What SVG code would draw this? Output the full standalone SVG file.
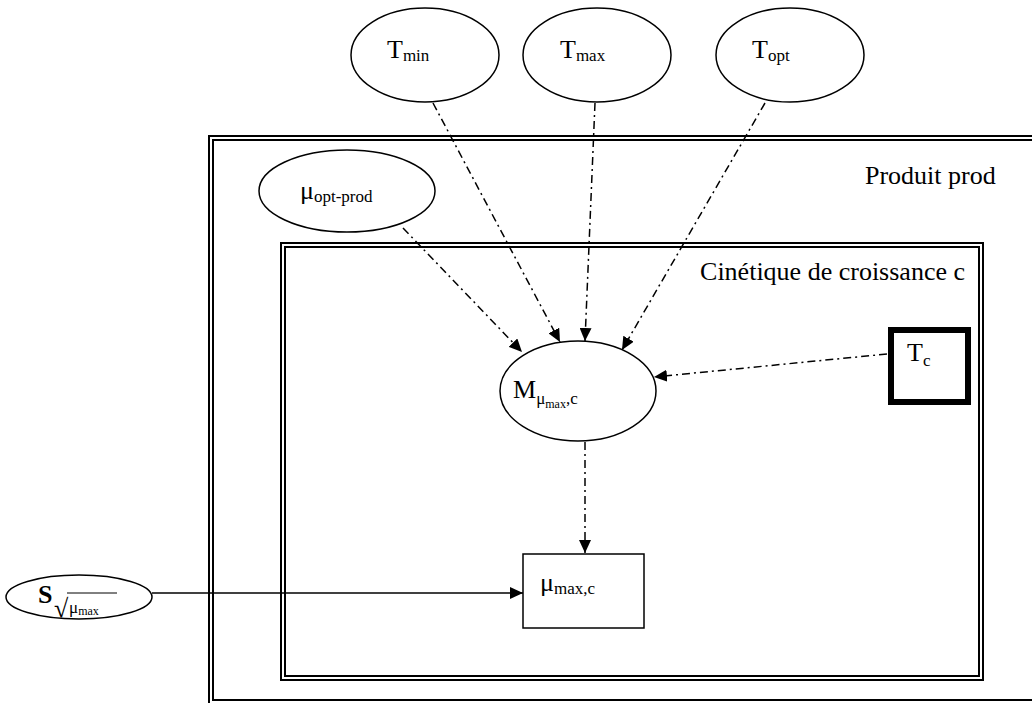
<svg xmlns="http://www.w3.org/2000/svg" width="1032" height="703" viewBox="0 0 1032 703">
<defs>
<style>
text{font-family:"Liberation Serif","Times New Roman",serif;fill:#000}
.big{font-size:26px}
.sub{font-size:17px}
.ssub{font-size:12px}
.ell{fill:#fff;stroke:#000;stroke-width:1.5}
.frame{fill:none;stroke:#000;stroke-width:2}
.dd{fill:none;stroke:#000;stroke-width:1.5;stroke-dasharray:8 4 2 4}
.solid{fill:none;stroke:#000;stroke-width:1.5}
</style>
<marker id="ah" markerUnits="userSpaceOnUse" markerWidth="14" markerHeight="12" refX="13" refY="6" orient="auto">
<path d="M0,0 L13,6 L0,12 Z" fill="#000"/>
</marker>
</defs>
<rect width="1032" height="703" fill="#fff"/>
<g id="produit">
<rect class="frame" x="209" y="136" width="900" height="600"/>
<rect class="frame" x="213" y="140" width="900" height="560"/>
<text class="big" x="865" y="184">Produit prod</text>
</g>
<g id="cinetique">
<rect class="frame" x="281" y="243" width="702" height="437"/>
<rect class="frame" x="285" y="247" width="694" height="429"/>
<text class="big" x="965" y="280" text-anchor="end">Cinétique de croissance c</text>
</g>
<g id="connectors">
<line class="dd" x1="403" y1="228" x2="522" y2="352" marker-end="url(#ah)"/>
<line class="dd" x1="433" y1="103" x2="560" y2="342" marker-end="url(#ah)"/>
<line class="dd" x1="595" y1="103" x2="585" y2="341" marker-end="url(#ah)"/>
<line class="dd" x1="765" y1="103" x2="622" y2="350" marker-end="url(#ah)"/>
<line class="dd" x1="887" y1="354" x2="654" y2="377" marker-end="url(#ah)"/>
<line class="dd" x1="585" y1="442" x2="585" y2="553" marker-end="url(#ah)"/>
<line class="solid" x1="152" y1="593" x2="523" y2="593" marker-end="url(#ah)"/>
</g>
<g id="Tmin">
<ellipse class="ell" cx="425" cy="55" rx="74" ry="47"/>
<text x="387" y="58"><tspan class="big">T</tspan><tspan class="sub" dy="3">min</tspan></text>
</g>
<g id="Tmax">
<ellipse class="ell" cx="597" cy="55" rx="74" ry="47"/>
<text x="560" y="58"><tspan class="big">T</tspan><tspan class="sub" dy="3">max</tspan></text>
</g>
<g id="Topt">
<ellipse class="ell" cx="790" cy="55" rx="74" ry="47"/>
<text x="752" y="58"><tspan class="big">T</tspan><tspan class="sub" dy="3">opt</tspan></text>
</g>
<g id="muopt">
<ellipse class="ell" cx="347" cy="191" rx="88" ry="41"/>
<text x="300" y="199"><tspan class="big">μ</tspan><tspan class="sub" dy="3">opt-prod</tspan></text>
</g>
<g id="M">
<ellipse class="ell" cx="578" cy="391" rx="78" ry="50"/>
<text x="513" y="398"><tspan class="big">M</tspan><tspan class="sub" dy="6">μ</tspan><tspan class="ssub" dy="4">max</tspan><tspan class="sub" dy="-4">,c</tspan></text>
</g>
<g id="Tc">
<rect x="891" y="330" width="77" height="72" fill="#fff" stroke="#000" stroke-width="6"/>
<text x="907" y="361"><tspan class="big">T</tspan><tspan class="sub" dy="5">c</tspan></text>
</g>
<g id="mumax">
<rect x="523" y="554" width="121" height="74" fill="#fff" stroke="#000" stroke-width="1.5"/>
<text x="540" y="591"><tspan class="big">μ</tspan><tspan class="sub" dy="3">max,c</tspan></text>
</g>
<g id="S">
<ellipse class="ell" cx="79" cy="597" rx="73" ry="22"/>
<text class="big" x="38" y="603" font-weight="bold">S</text>
<text x="54" y="617" style="font-size:26px">√</text>
<line x1="67" y1="593" x2="117" y2="593" stroke="#000" stroke-width="1"/>
<text x="69" y="613"><tspan class="sub">μ</tspan><tspan class="ssub" dy="2">max</tspan></text>
</g>
</svg>
